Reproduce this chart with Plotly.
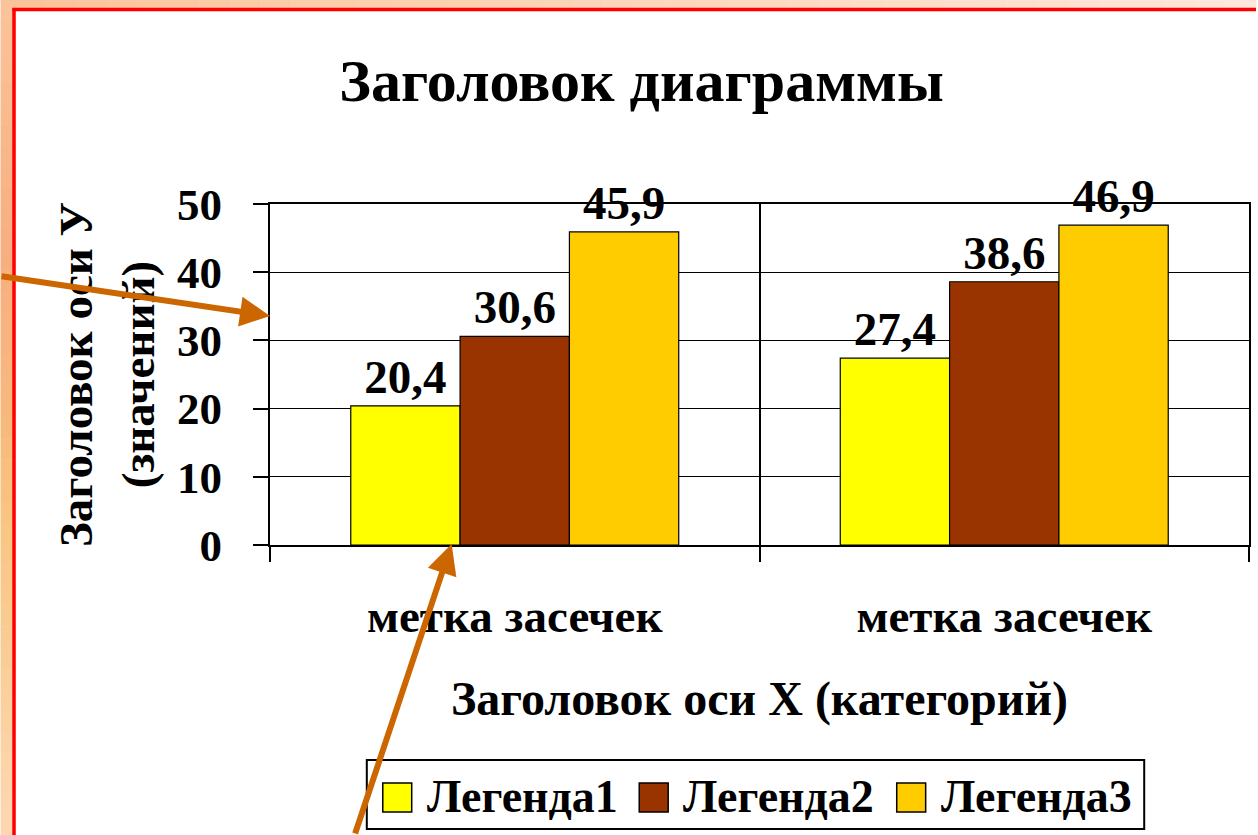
import plotly.graph_objects as go

categories = ["метка засечек", "метка засечек"]
series_names = ["Легенда1", "Легенда2", "Легенда3"]
series_values = {
    "Легенда1": [20.4, 27.4],
    "Легенда2": [30.6, 38.6],
    "Легенда3": [45.9, 46.9],
}
series_colors = {"Легенда1": "#FFFF00", "Легенда2": "#993300", "Легенда3": "#FFCC00"}
y_ticks = [0, 10, 20, 30, 40, 50]

W, H = 1258, 835
L, R, T, B = 270, 1251, 204, 545
PW, PH = R - L, B - T

def px(x):
    return (x - L) / PW

def py(y):
    return (B - y) / PH

FONT = "Liberation Serif"
x_pos = list(range(len(categories)))

fig = go.Figure()
for name in series_names:
    vals = series_values[name]
    fig.add_trace(go.Bar(
        x=x_pos, y=vals, name=name, showlegend=False,
        marker=dict(color=series_colors[name], line=dict(color="black", width=1.2)),
        text=[f"{v:.1f}".replace(".", ",") for v in vals],
        textposition="outside", cliponaxis=False, constraintext="none",
        textfont=dict(family=FONT, size=47, color="black", weight="bold"),
    ))

shapes = []
# peach gradient strips (background decoration)
def lerp(c1, c2, t):
    a = [int(c1[i:i + 2], 16) for i in (1, 3, 5)]
    b = [int(c2[i:i + 2], 16) for i in (1, 3, 5)]
    return "#" + "".join(f"{round(a[k] + (b[k] - a[k]) * t):02X}" for k in range(3))

stops = [(0, "#FAC49A"), (250, "#F8AE80"), (420, "#F8B97C"), (520, "#F9C581"), (835, "#FCD8B4")]
nb = 40
for i in range(nb):
    y0 = i * H / nb
    y1 = (i + 1) * H / nb
    ym = (y0 + y1) / 2
    for (s0, c0), (s1, c1) in zip(stops[:-1], stops[1:]):
        if s0 <= ym <= s1:
            col = lerp(c0, c1, (ym - s0) / (s1 - s0))
            break
    shapes.append(dict(type="rect", xref="paper", yref="paper", x0=px(0), x1=px(12.5),
                       y0=py(y1 + 0.5), y1=py(y0), fillcolor=col, line=dict(width=0), layer="below"))
nb = 40
for i in range(nb):
    x0 = 12 + i * (W - 12) / nb
    x1 = 12 + (i + 1) * (W - 12) / nb
    col = lerp("#FAC49A", "#FDE8DC", (i + 0.5) / nb)
    shapes.append(dict(type="rect", xref="paper", yref="paper", x0=px(x0), x1=px(x1 + 0.5),
                       y0=py(8.5), y1=py(0), fillcolor=col, line=dict(width=0), layer="below"))
# red border
shapes.append(dict(type="line", xref="paper", yref="paper", x0=px(13.5), x1=px(13.5),
                   y0=py(H), y1=py(8), line=dict(color="#FF0000", width=3.5)))
shapes.append(dict(type="line", xref="paper", yref="paper", x0=px(12), x1=px(W),
                   y0=py(9.5), y1=py(9.5), line=dict(color="#FF0000", width=3.5)))

# legend (box, swatches, labels)
leg_box = (367, 760, 1146, 829)
swatch_x = [383, 640, 898]
text_x = [425, 682, 940]
shapes.append(dict(type="rect", xref="paper", yref="paper", x0=px(leg_box[0]), x1=px(leg_box[2]),
                   y0=py(leg_box[3]), y1=py(leg_box[1]), fillcolor="white",
                   line=dict(color="black", width=2)))
annotations = []
for name, sx, tx in zip(series_names, swatch_x, text_x):
    shapes.append(dict(type="rect", xref="paper", yref="paper", x0=px(sx), x1=px(sx + 29),
                       y0=py(812), y1=py(783), fillcolor=series_colors[name],
                       line=dict(color="black", width=1.5)))
    annotations.append(dict(xref="paper", yref="paper", x=px(tx), y=py(796), text=name,
                            showarrow=False, xanchor="left", yanchor="middle",
                            font=dict(family=FONT, size=46, color="black", weight="bold")))

annotations += [
    dict(xref="paper", yref="paper", x=px(270), y=py(316), text="", showarrow=True,
         axref="pixel", ayref="pixel", ax=-272, ay=-40, arrowhead=2, arrowsize=1,
         arrowwidth=6, arrowcolor="#CC6600"),
    dict(xref="paper", yref="paper", x=px(452), y=py(544), text="", showarrow=True,
         axref="pixel", ayref="pixel", ax=-97, ay=293, arrowhead=2, arrowsize=1,
         arrowwidth=6, arrowcolor="#CC6600"),
]

fig.update_layout(
    width=W, height=H,
    margin=dict(l=L, r=W - R, t=T, b=H - B, pad=0),
    paper_bgcolor="white", plot_bgcolor="rgba(0,0,0,0)",
    barmode="group", bargap=0.33, bargroupgap=0,
    font=dict(family=FONT, color="black", weight="bold"),
    title=dict(text="Заголовок диаграммы", xref="container", yref="container",
               x=641.5 / W, y=1 - 80 / H, xanchor="center", yanchor="middle",
               font=dict(family=FONT, size=60, color="black", weight="bold")),
    showlegend=False,
    shapes=shapes, annotations=annotations,
)
fig.update_xaxes(
    range=[-0.5, len(categories) - 0.5], tickmode="array", tickvals=x_pos, ticktext=categories,
    ticks="", showgrid=False, zeroline=False,
    showline=True, linecolor="black", linewidth=2, mirror=True,
    tickfont=dict(family=FONT, size=47, color="black", weight="bold"),
    ticklabelstandoff=29,
    minor=dict(tickmode="array", tickvals=[-0.5, 0.5, 1.5], ticks="outside", ticklen=15,
               tickcolor="black", tickwidth=2, showgrid=True, gridcolor="black", gridwidth=1.5),
    title=dict(text="Заголовок оси X (категорий)", standoff=40,
               font=dict(family=FONT, size=48, color="black", weight="bold")),
)
fig.update_yaxes(
    range=[0, 50], tickmode="array", tickvals=y_ticks,
    ticks="outside", ticklen=15, tickcolor="black", tickwidth=1.5,
    showgrid=True, gridcolor="black", gridwidth=1, zeroline=False,
    showline=True, linecolor="black", linewidth=2, mirror=True,
    tickfont=dict(family=FONT, size=45, color="black", weight="bold"),
    ticklabelstandoff=22,
    title=dict(text="Заголовок оси У<br>(значений)", standoff=8,
               font=dict(family=FONT, size=47, color="black", weight="bold")),
)

fig.write_html("out.html", config={"displayModeBar": False},
               post_script="document.body.style.margin='0px';")
